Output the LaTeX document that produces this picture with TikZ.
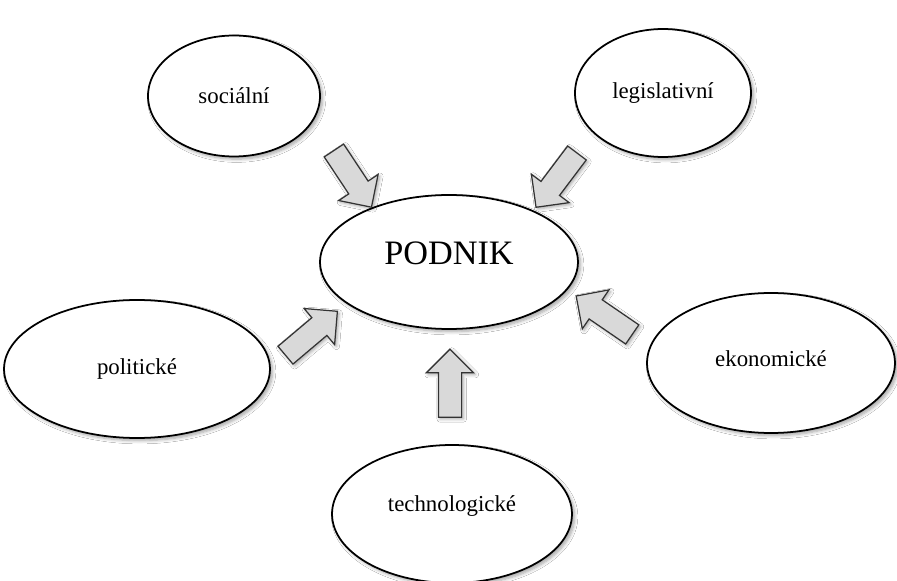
\documentclass[tikz,border=0pt]{standalone}
\usepackage{fontspec}
\setmainfont{Liberation Serif}
\usetikzlibrary{shapes.geometric,shapes.arrows,shadows.blur}

\tikzset{
  oblast/.style={ellipse,draw,line width=1pt,fill=white,font=\fontsize{13}{15}\selectfont,
    blur shadow={shadow xshift=1.5pt,shadow yshift=-1.5pt,shadow opacity=35,shadow blur steps=6}},
  sipka/.style={single arrow,draw=black!80,line width=.7pt,fill=gray!30,minimum height=1.36cm,
    inner sep=.22cm,single arrow head extend=.24cm,
    blur shadow={shadow xshift=1pt,shadow yshift=-1pt,shadow opacity=35,shadow blur steps=4}}
}

\begin{document}
\begin{tikzpicture}[x=.02cm,y=-.02cm]
\useasboundingbox (0,0) rectangle (897,581);
\fill[white] (0,0) rectangle (897,581);
\node[oblast,minimum width=3.44cm,minimum height=2.42cm] (soc) at (234,96) {sociální};
\node[oblast,minimum width=3.52cm,minimum height=2.56cm] (leg) at (663,93) {legislativní};
\node[oblast,minimum width=5.16cm,minimum height=2.68cm,font=\fontsize{19.5}{22}\selectfont,text depth=10pt] (pod) at (449,262) {PODNIK};
\node[oblast,minimum width=5.32cm,minimum height=2.76cm] (pol) at (137,369) {politické};
\node[oblast,minimum width=4.96cm,minimum height=2.8cm,text depth=5pt] (eko) at (771,363) {ekonomické};
\node[oblast,minimum width=4.8cm,minimum height=2.76cm,text depth=12pt] (tech) at (452,514) {technologické};

\node[sipka,rotate=-56.5] (s1) at (349.5,174) {};
\node[sipka,rotate=-127] (s2) at (560,175.5) {};
\node[sipka,rotate=40.2] (s3) at (307,337) {};
\node[sipka,rotate=145.6] (s4) at (609,318.5) {};
\node[sipka,rotate=90] (s5) at (450,389) {};
\end{tikzpicture}
\end{document}
